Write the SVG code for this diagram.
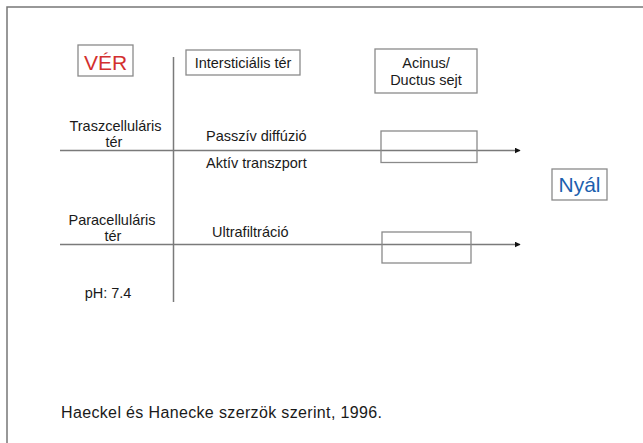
<svg xmlns="http://www.w3.org/2000/svg" width="643" height="443" viewBox="0 0 643 443">
  <defs>
    <style>
      text { font-family: "Liberation Sans", Arial, sans-serif; font-size: 14.5px; fill: #1a1a1a; }
      .box { fill: #ffffff; stroke: #8a8a8a; stroke-width: 1.3; }
      .frame { fill: none; stroke: #8a8a8a; stroke-width: 1.3; }
      .line { stroke: #7a7a7a; stroke-width: 1.5; fill: none; }
      .mid { text-anchor: middle; }
    </style>
    <marker id="arrow" viewBox="0 0 10 10" refX="9" refY="5" markerWidth="4" markerHeight="4" orient="auto" markerUnits="strokeWidth">
      <path d="M0,0 L10,5 L0,10 z" fill="#111111"/>
    </marker>
  </defs>
  <rect width="643" height="443" fill="#ffffff"/>
  <path d="M7,443 V7 H643" fill="none" stroke="#777777" stroke-width="1.5"/>

  <g id="connectors">
    <line class="line" x1="173.5" y1="57" x2="173.5" y2="302"/>
    <line class="line" x1="60" y1="150.5" x2="520" y2="150.5" marker-end="url(#arrow)"/>
    <line class="line" x1="60" y1="244.5" x2="520" y2="244.5" marker-end="url(#arrow)"/>
  </g>

  <g id="ver">
    <rect class="box" x="78" y="45" width="55" height="31"/>
    <text class="mid" x="105.5" y="70" style="font-size:21px;fill:#d32f2f">VÉR</text>
  </g>
  <g id="intersticialis">
    <rect class="box" x="186" y="50" width="114" height="25"/>
    <text class="mid" x="243" y="68">Intersticiális tér</text>
  </g>
  <g id="acinus">
    <rect class="box" x="375" y="49" width="102" height="44"/>
    <text class="mid" x="426" y="68">Acinus/</text>
    <text class="mid" x="426" y="85">Ductus sejt</text>
  </g>
  <g id="nyal">
    <rect class="box" x="552" y="169" width="55" height="31"/>
    <text class="mid" x="579.5" y="192" style="font-size:21px;fill:#1c5fae">Nyál</text>
  </g>
  <g id="cell1">
    <rect class="frame" x="381" y="131" width="96" height="31.5"/>
  </g>
  <g id="cell2">
    <rect class="frame" x="382" y="232" width="89" height="31"/>
  </g>

  <g id="trans">
    <text class="mid" x="115.5" y="130.5">Traszcelluláris</text>
    <text class="mid" x="114" y="146.5">tér</text>
  </g>
  <g id="para">
    <text class="mid" x="112" y="225">Paracelluláris</text>
    <text class="mid" x="113" y="241">tér</text>
  </g>
  <g id="ph">
    <text class="mid" x="108" y="298">pH: 7.4</text>
  </g>
  <g id="labels">
    <text x="206" y="141">Passzív diffúzió</text>
    <text x="206" y="168">Aktív transzport</text>
    <text x="212" y="237">Ultrafiltráció</text>
  </g>
  <g id="source">
    <text x="61" y="418" style="font-size:16px" textLength="321" lengthAdjust="spacing">Haeckel és Hanecke szerzök szerint, 1996.</text>
  </g>
</svg>
